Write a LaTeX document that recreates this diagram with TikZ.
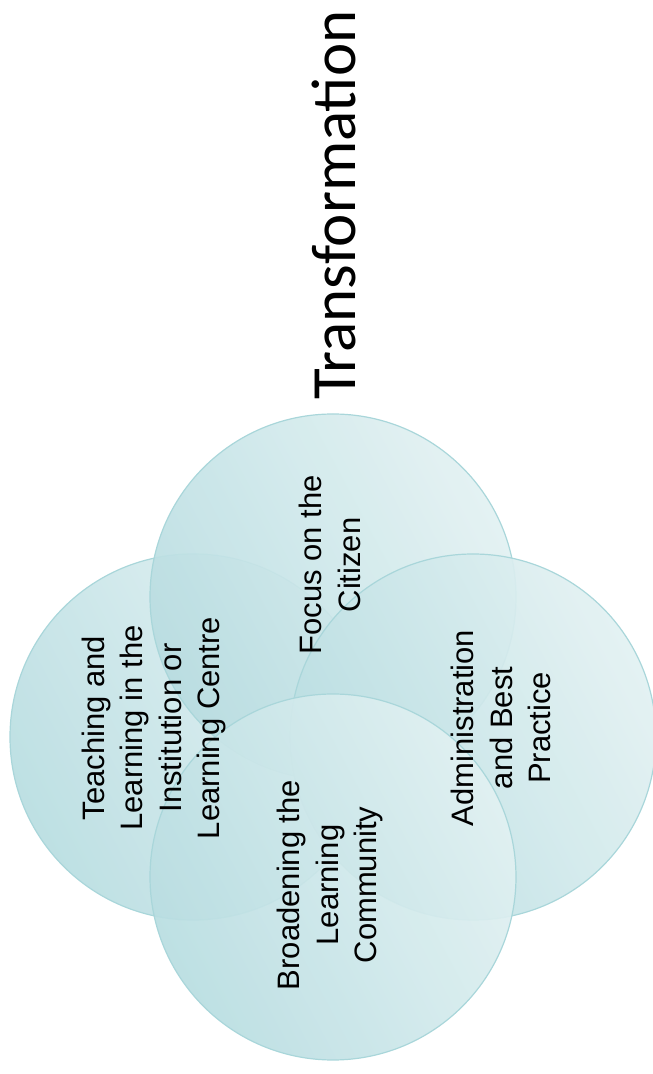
\documentclass[tikz,border=0pt]{standalone}
\usepackage{fontspec}
\setmainfont{Liberation Sans}
\newfontfamily\titlefont{Carlito}
\definecolor{ringdark}{HTML}{B8DDE1}
\definecolor{ringlight}{HTML}{E2F1F2}
\definecolor{ringedge}{HTML}{A9D6DA}
\tikzset{
  ring/.style={circle, minimum size=366pt, inner sep=0pt, draw=ringedge,
    line width=1.2pt, left color=ringdark, right color=ringlight,
    shading angle=118, fill opacity=0.92, draw opacity=1},
  ringtext/.style={rotate=90, align=center, inner sep=0pt,
    font=\fontsize{31}{38.5}\selectfont}
}
\begin{document}
\begin{tikzpicture}[x=1pt, y=1pt]
  \useasboundingbox (0,0) rectangle (653,1074);
  \draw
    (193,337) node[ring] (teach){}
    (333,477) node[ring] (focus){}
    (473,337) node[ring] (admin){}
    (333,197) node[ring] (broad){};
  \begin{scope}[every node/.style={ringtext}]
    \node (teachtext) at (154,346) {Teaching and\\Learning in the\\Institution or\\Learning Centre};
    \node (focustext) at (330,509) {Focus on the\\Citizen};
    \node (admintext) at (501,346) {Administration\\and Best\\Practice};
    \node (broadtext) at (330,189) {Broadening the\\Learning\\Community};
  \end{scope}
  \node[rotate=90, anchor=base west, inner sep=0pt,
    font=\titlefont\fontsize{63}{70}\selectfont] (title) at (355,674) {Transformation};
\end{tikzpicture}
\end{document}
